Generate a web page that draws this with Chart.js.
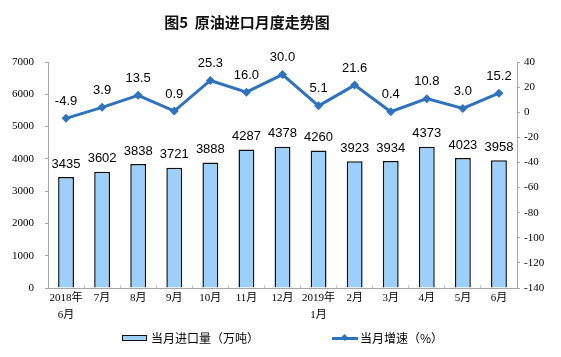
<!DOCTYPE html>
<html>
<head>
<meta charset="utf-8">
<script src="https://cdn.jsdelivr.net/npm/chart.js@4"></script>
<style>
html,body{margin:0;padding:0;background:#fff;}
#wrap{position:relative;width:561px;height:357px;overflow:hidden;}
#c{position:absolute;left:0;top:0;}
#title{position:absolute;left:0;width:494px;top:11px;text-align:center;font-weight:bold;font-size:15px;line-height:22px;font-family:"Noto Sans CJK SC",sans-serif;color:#111;}
.lg-text{position:absolute;top:330px;font-size:12px;line-height:16px;font-family:"Noto Sans CJK SC",sans-serif;color:#000;white-space:nowrap;}
#lgBox{position:absolute;left:122px;top:335px;width:25px;height:6px;box-sizing:border-box;border:1.5px solid #111;background:#9DCFFB;}
#lgLine{position:absolute;left:332px;top:337px;width:26px;height:2.5px;background:#2F72BE;}
#lgDia{position:absolute;left:342px;top:335px;width:5px;height:5px;background:#2F72BE;transform:rotate(45deg);}
</style>
</head>
<body>
<div id="wrap">
  <canvas id="c" width="561" height="357"></canvas>
  <div id="title">图5&nbsp;&nbsp;原油进口月度走势图</div>
  <div id="lgBox"></div>
  <div class="lg-text" style="left:151px">当月进口量（万吨）</div>
  <div id="lgLine"></div><div id="lgDia"></div>
  <div class="lg-text" style="left:360px">当月增速（%）</div>
</div>
<script>
const categories = [["2018年","6月"],"7月","8月","9月","10月","11月","12月",["2019年","1月"],"2月","3月","4月","5月","6月"];
const importVolume = [3435,3602,3838,3721,3888,4287,4378,4260,3923,3934,4373,4023,3958];
const growthRate = [-4.9,3.9,13.5,0.9,25.3,16.0,30.0,5.1,21.6,0.4,10.8,3.0,15.2];
const leftAxis = {min:0, max:7000, step:1000};
const rightAxis = {min:-140, max:40, step:20};

const axisColor = '#A6A6A6';
const lineColor = '#2F72BE';
const barColor = '#9DCFFB';

const valueLabels = {
  id:'valueLabels',
  afterDatasetsDraw(chart){
    const ctx = chart.ctx;
    chart.data.datasets.forEach((ds,i)=>{
      const meta = chart.getDatasetMeta(i);
      const isLine = ds.type === 'line';
      ctx.save();
      ctx.font = '13px "Liberation Sans", Arial, sans-serif';
      ctx.fillStyle = '#000';
      ctx.textAlign = 'center';
      ctx.textBaseline = 'middle';
      meta.data.forEach((el,j)=>{
        const v = ds.data[j];
        const txt = isLine ? v.toFixed(1) : String(v);
        ctx.fillText(txt, el.x, el.y - (isLine ? 17 : 13));
      });
      ctx.restore();
    });
  }
};

const plain = v => String(v);

new Chart(document.getElementById('c'), {
  data: {
    labels: categories,
    datasets: [
      {
        type:'line', label:'当月增速（%）', data: growthRate, yAxisID:'y1', order:0,
        borderColor: lineColor, borderWidth: 3, tension: 0,
        pointStyle:'rectRot', pointRadius:4.5, pointBackgroundColor: lineColor, pointBorderWidth:0
      },
      {
        type:'bar', label:'当月进口量（万吨）', data: importVolume, yAxisID:'y', order:1,
        backgroundColor: barColor, borderColor:'#111', borderWidth:1.5,
        categoryPercentage:1, barPercentage:0.44
      }
    ]
  },
  options: {
    responsive:false, animation:false, devicePixelRatio:1,
    layout:{padding:{top:62,bottom:29,left:0,right:0}},
    plugins:{legend:{display:false}, title:{display:false}, tooltip:{enabled:false}},
    scales:{
      x:{
        offset:true,
        grid:{display:true, drawOnChartArea:false, drawTicks:true, tickLength:-3, color:'#C8C8C8', offset:true},
        border:{display:true, color:axisColor, width:1},
        ticks:{font:{family:'"Liberation Serif", "Noto Sans CJK SC"', size:11, lineHeight:1.6}, color:'#000', maxRotation:0, autoSkip:false, padding:4},
        afterFit(s){ s.height = 40; }
      },
      y:{
        position:'left', min:leftAxis.min, max:leftAxis.max,
        grid:{display:true, drawOnChartArea:false, drawTicks:true, tickLength:3, color:axisColor},
        border:{display:true, color:axisColor, width:1},
        ticks:{stepSize:leftAxis.step, callback:plain, font:{family:'"Liberation Serif"', size:11}, color:'#000', padding:11},
        afterFit(s){ s.width = 48; }
      },
      y1:{
        position:'right', min:rightAxis.min, max:rightAxis.max,
        grid:{display:true, drawOnChartArea:false, drawTicks:true, tickLength:3, color:axisColor},
        border:{display:true, color:axisColor, width:1},
        ticks:{stepSize:rightAxis.step, callback:plain, font:{family:'"Liberation Serif"', size:11}, color:'#000', padding:4},
        afterFit(s){ s.width = 44; }
      }
    }
  },
  plugins:[valueLabels]
});
</script>
</body>
</html>
